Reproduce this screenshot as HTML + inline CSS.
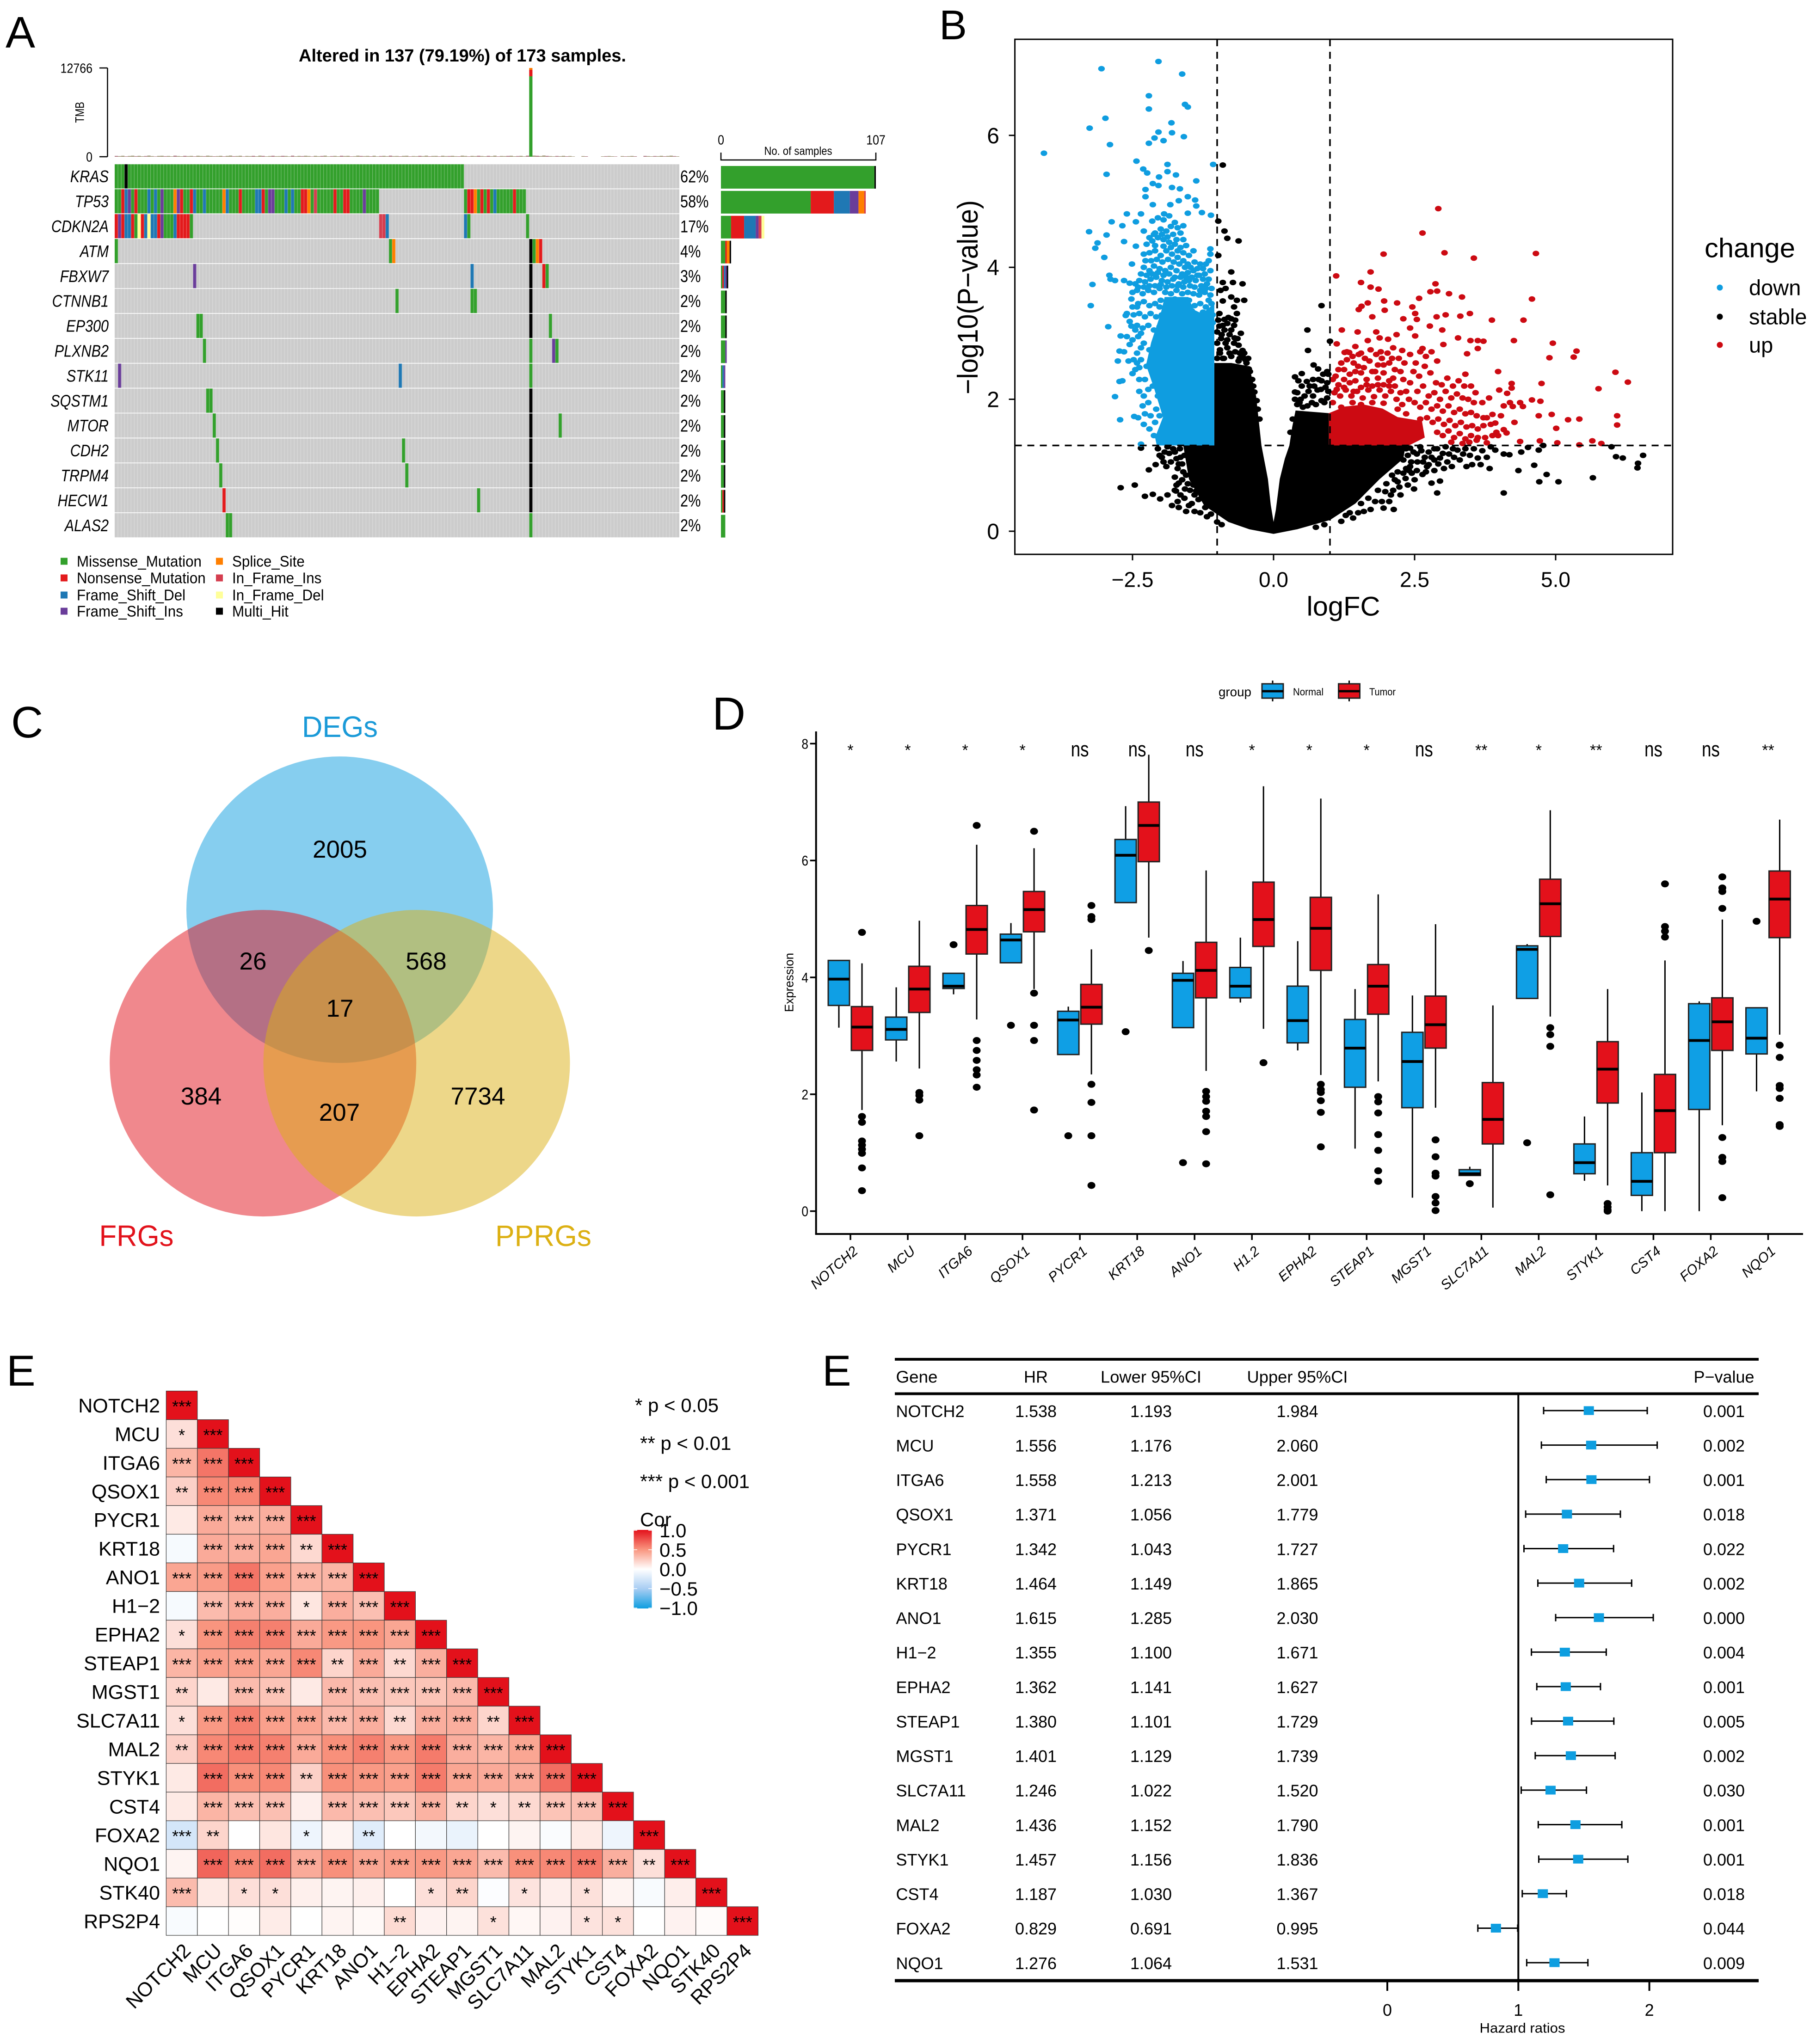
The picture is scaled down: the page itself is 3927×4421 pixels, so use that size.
<!DOCTYPE html>
<html lang="en">
<head>
<meta charset="utf-8">
<title>Multi-panel gene expression figure</title>
<style>
html,body{margin:0;padding:0;background:#fff;}
svg{display:block;font-family:"Liberation Sans",Arial,sans-serif;}
</style>
</head>
<body>
<svg id="figure" xmlns="http://www.w3.org/2000/svg" width="3927" height="4421" viewBox="0 0 3927 4421">
  <defs>
    <linearGradient id="corGradient" x1="0" y1="0" x2="0" y2="1">
      <stop offset="0" stop-color="#e3111b"/>
      <stop offset="0.25" stop-color="#f9957f"/>
      <stop offset="0.5" stop-color="#ffffff"/>
      <stop offset="0.75" stop-color="#a8cdf3"/>
      <stop offset="1" stop-color="#0e9ee0"/>
    </linearGradient>
  </defs>
  <rect width="3927" height="4421" fill="#fff"/>

  <text x="12" y="103" font-size="96">A</text>
  <text x="2031" y="85" font-size="90">B</text>
  <text x="24" y="1595" font-size="96">C</text>
  <text x="1540" y="1578" font-size="100">D</text>
  <text x="14" y="2997" font-size="94">E</text>
  <text x="1778" y="2997" font-size="94">E</text>

  <g id="panelA">
    <text x="1000" y="133" font-size="38" font-weight="bold" text-anchor="middle" textLength="708" lengthAdjust="spacingAndGlyphs">Altered in 137 (79.19%) of 173 samples.</text>
  </g>

  <g id="panelB"></g>

  <g id="panelC">
    <circle cx="734.5" cy="1967.6" r="331.5" fill="#0e9ee0" fill-opacity="0.5"/>
    <circle cx="568.7" cy="2299.6" r="331.5" fill="#e2121b" fill-opacity="0.5"/>
    <circle cx="901" cy="2299.6" r="331.5" fill="#dcb013" fill-opacity="0.5"/>
    <text x="735" y="1594" font-size="64" fill="#1a9ad8" text-anchor="middle" textLength="164" lengthAdjust="spacingAndGlyphs">DEGs</text>
    <text x="295" y="2695" font-size="64" fill="#e2121b" text-anchor="middle" textLength="161" lengthAdjust="spacingAndGlyphs">FRGs</text>
    <text x="1175" y="2695" font-size="64" fill="#dcb013" text-anchor="middle" textLength="208" lengthAdjust="spacingAndGlyphs">PPRGs</text>
    <g font-size="53" text-anchor="middle">
      <text x="735" y="1855">2005</text>
      <text x="547" y="2097">26</text>
      <text x="921.5" y="2097">568</text>
      <text x="735" y="2199">17</text>
      <text x="435" y="2389">384</text>
      <text x="734" y="2424">207</text>
      <text x="1033.5" y="2389">7734</text>
    </g>
  </g>

  <g id="panelD"></g>
  <g id="panelE"></g>
  <g id="panelF"></g>
</svg>

<script>
/* ---------- Panel A data ---------- */
const oncoGenes = ['KRAS','TP53','CDKN2A','ATM','FBXW7','CTNNB1','EP300','PLXNB2','STK11','SQSTM1','MTOR','CDH2','TRPM4','HECW1','ALAS2'];
const oncoPctLabels = ['62%','58%','17%','4%','3%','2%','2%','2%','2%','2%','2%','2%','2%','2%','2%'];
const oncoSampleCount = 173;
/* runs: [firstSample, lastSample, mutationCode]; later runs overwrite earlier ones */
const mutKRAS = [[0,106,'M'],[3,3,'H']];
const mutTP53 = [[0,80,'M'],[107,125,'M'],[2,2,'N'],[3,3,'D'],[4,4,'I'],[6,6,'N'],[10,10,'D'],[12,12,'D'],[14,14,'I'],[18,18,'S'],[19,19,'I'],[20,20,'N'],[23,23,'N'],[24,24,'D'],[27,27,'D'],[33,33,'S'],[34,34,'D'],[38,38,'N'],[43,44,'D'],[45,45,'N'],[47,48,'I'],[52,52,'D'],[54,54,'D'],[57,58,'N'],[59,59,'S'],[61,61,'F'],[67,67,'N'],[70,71,'N'],[76,76,'I'],[108,109,'N'],[110,110,'S'],[112,112,'N'],[114,114,'N'],[116,116,'D'],[122,122,'N']];
const mutCDKN2A = [[0,0,'N'],[1,1,'I'],[2,2,'N'],[3,4,'D'],[5,5,'N'],[6,6,'M'],[7,7,'E'],[8,8,'N'],[9,9,'D'],[10,10,'E'],[11,12,'D'],[13,13,'N'],[14,14,'I'],[15,17,'M'],[18,18,'D'],[19,22,'N'],[23,23,'M'],[81,82,'F'],[83,83,'D'],[107,107,'D'],[108,108,'M'],[126,126,'M']];
const mutATM = [[0,0,'M'],[84,84,'M'],[85,85,'S'],[127,127,'H'],[128,128,'M'],[129,129,'S'],[130,130,'N']];
const mutFBXW7 = [[24,24,'I'],[109,109,'D'],[127,127,'H'],[131,131,'N'],[132,132,'M']];
const mutCTNNB1 = [[86,86,'M'],[109,110,'M'],[127,127,'H']];
const mutEP300 = [[25,26,'M'],[127,127,'H'],[133,133,'M']];
const mutPLXNB2 = [[27,27,'M'],[127,127,'M'],[134,134,'I'],[135,135,'M']];
const mutSTK11 = [[1,1,'I'],[87,87,'D'],[127,127,'M']];
const mutSQSTM1 = [[28,29,'M'],[127,127,'H']];
const mutMTOR = [[30,30,'M'],[127,127,'H'],[136,136,'M']];
const mutCDH2 = [[31,31,'M'],[88,88,'M'],[127,127,'H']];
const mutTRPM4 = [[32,32,'M'],[89,89,'M'],[127,127,'H']];
const mutHECW1 = [[33,33,'N'],[111,111,'M'],[127,127,'H']];
const mutALAS2 = [[34,35,'M'],[127,127,'M']];
const mutationRuns = [mutKRAS,mutTP53,mutCDKN2A,mutATM,mutFBXW7,mutCTNNB1,mutEP300,mutPLXNB2,mutSTK11,mutSQSTM1,mutMTOR,mutCDH2,mutTRPM4,mutHECW1,mutALAS2];
const mutationCodes = ['M','N','D','I','S','F','E','H'];
const mutationColors = ['#33a02c','#e31a1c','#1f78b4','#6a3d9a','#ff7f00','#d53e4f','#ffff99','#000000'];
const legendCodes = ['M','N','D','I','S','F','E','H'];
const legendLabels = ['Missense_Mutation','Nonsense_Mutation','Frame_Shift_Del','Frame_Shift_Ins','Splice_Site','In_Frame_Ins','In_Frame_Del','Multi_Hit'];
const tmbHypermutated = [11570,930,266];
const tmbHypermutatedSample = 127;
const tmbMax = 12766;
const tmbOthers = [120,90,140,60,110,150,80,130,70,100,160,90,50,120,140,80,110,60,150,100,70,130,90,120,60,140,100,80,150,110,70,90,130,60,120,160,80,100,140,50,110,90,130,70,150,120,60,100,140,80,90,130,110,60,150,70,120,90,140,100,50,130,80,110,150,60,90,120,70,140,100,130,60,80,150,110,90,120,70,140,60,100,130,80,150,90,110,70,120,140,60,100,80,130,90,150,70,110,120,60,140,90,100,130,80,70,150,110,60,120,90,140,100,70,130,80,150,60,110,90,120,140,70,100,130,60,150,0,160,140,100,170,120,90,60,110,80,130,70,100,50,0,0,90,70,0,0,0,0,60,80,100,70,50,0,90,60,80,110,70,0,0,120,90,60,100,80,130,70,110,150,90,60];

/* ---------- Panel B data (x = logFC, y = -log10 P) ---------- */
const downPoints = [[-4.07,5.73],[-3.05,7.01],[-2.04,7.12],[-1.62,6.93],[-2.21,6.6],[-2.21,6.4],[-1.57,6.47],[-1.52,6.43],[-2.98,6.26],[-3.26,6.11],[-1.81,6.19],[-2.04,6.05],[-1.8,6.04],[-1.59,5.98],[-2.11,5.96],[-2.21,5.88],[-1.95,5.92],[-2.9,5.86],[-2.43,5.61],[-1.88,5.56],[-1.07,5.56],[-2.96,5.41],[-2.31,5.49],[-2.24,5.43],[-2.03,5.37],[-1.73,5.4],[-1.37,5.31],[-1.88,5.45],[-2.14,5.27],[-2.04,5.24],[-1.8,5.21],[-1.66,5.19],[-2.27,5.18],[-2.27,5.07],[-1.52,5.07],[-1.39,5.02],[-1.37,4.93],[-1.68,5.01],[-1.83,4.95],[-2.14,4.95],[-2.6,4.81],[-2.35,4.81],[-1.94,4.81],[-1.52,4.82],[-1.27,4.83],[-1.11,4.79],[-2.87,4.69],[-2.68,4.63],[-2.44,4.69],[-3.27,4.54],[-2.96,4.49],[-3.12,4.37],[-3.16,4.29],[-2.65,4.39],[-2.44,4.32],[-3,4.15],[-2.51,4.05],[-3.21,3.74],[-3.24,3.42],[-2.91,3.88],[-2.89,3.82],[-2.81,3.8],[-2.65,3.8],[-2.55,3.76],[-2.93,3.1],[-2.62,3.27],[-2.71,2.96],[-2.52,3.11],[-2.73,2.73],[-2.65,2.72],[-2.55,2.83],[-2.76,2.58],[-2.57,2.58],[-2.5,2.39],[-2.73,2.27],[-2.68,2.28],[-2.81,2.04],[-2.72,1.69],[-2.47,1.74],[-2.35,1.32],
[-2.15,4.7],[-2.05,4.75],[-1.95,4.72],[-1.85,4.78],[-1.75,4.68],[-1.7,4.6],[-1.82,4.62],[-1.9,4.55],[-2,4.58],[-2.1,4.52],[-2.2,4.45],[-2.3,4.55],[-1.78,4.5],[-1.65,4.52],[-1.6,4.63],[-2.25,4.35],[-2.15,4.4],[-2.05,4.45],[-1.95,4.42],[-1.85,4.38],[-1.75,4.35],[-1.65,4.3],[-1.55,4.33],[-1.42,4.25],[-1.12,4.28],[-1.12,4.2],[-2.3,4.2],[-2.2,4.22],[-2.1,4.25],[-2,4.18],[-1.9,4.25],[-1.8,4.2],[-1.7,4.15],[-1.6,4.1],[-1.5,4.18],[-1.4,4.08],[-1.3,4.05],[-1.2,4.05],[-1.52,4.05],[-2.3,4],[-2.2,3.95],[-2.12,4.02],[-2.02,3.98],[-1.92,3.95],[-1.82,4],[-1.72,3.95],[-1.62,3.9],[-1.52,3.92],[-1.42,3.95],[-1.32,3.88],[-1.22,3.9],[-1.12,3.95],[-2.45,3.75],[-2.38,3.8],[-2.28,3.78],[-2.18,3.82],[-2.08,3.85],[-1.98,3.8],[-1.88,3.78],[-1.78,3.82],[-1.68,3.75],[-1.58,3.78],[-1.48,3.72],[-1.38,3.8],[-1.28,3.72],[-1.18,3.75],[-2.5,3.62],[-2.42,3.65],[-2.32,3.6],[-2.22,3.65],[-2.12,3.62],[-2.02,3.68],[-1.92,3.62],[-1.82,3.6],[-1.72,3.65],[-1.62,3.6],[-1.52,3.62],[-1.42,3.6],[-1.32,3.58],[-1.22,3.62],[-1.12,3.58],[-2.52,3.52],[-2.4,3.45],[-2.3,3.48],[-2.2,3.42],[-2.1,3.45],[-2,3.5],[-1.9,3.42],[-1.8,3.48],[-1.7,3.4],[-1.6,3.45],[-1.5,3.5],[-1.4,3.42],[-1.3,3.45],[-1.2,3.4],[-1.1,3.45],[-2.6,3.3],[-2.48,3.28],[-2.38,3.3],[-2.28,3.25],[-2.18,3.3],[-2.08,3.25],[-1.98,3.28],[-1.88,3.22],[-1.78,3.3],[-1.68,3.25],[-1.58,3.28],[-1.48,3.22],[-1.38,3.28],[-1.28,3.25],[-1.18,3.22],[-1.08,3.28],[-2.42,3.12],[-2.32,3.08],[-2.22,3.12],[-2.12,3.05],[-2.02,3.1],[-1.92,3.05],[-1.82,3.12],[-1.72,3.05],[-1.62,3.1],[-1.52,3.05],[-1.42,3.12],[-1.32,3.08],[-1.22,3.05],[-1.12,3.1],[-2.02,3.4],[-1.93,3.33],[-1.84,3.38],[-1.75,3.52],[-1.64,3.36],[-1.55,3.18],[-1.45,3.34],[-1.35,3.18],[-1.25,3.32],[-1.15,3.5],[-1.95,3.14],[-1.78,3.18],[-1.66,3],[-1.47,2.98],[-1.27,3],[-1.08,3.16],[-2.05,2.98],
[-2.4,2.95],[-2.3,2.85],[-2.42,2.7],[-2.35,2.6],[-2.25,2.5],[-2.45,2.45],[-2.38,2.3],[-2.28,2.3],[-2.2,2.75],[-2.15,2.6],[-2.22,2.15],[-2.3,2.05],[-2.38,2.12],[-2.32,1.9],[-2.22,1.95],[-2.28,1.78],[-2.4,1.72],[-2.3,1.62],[-2.18,1.75],[-2.2,1.55],[-2.12,1.45],[-2.1,1.65],[-2.08,1.85],[-2.05,2.05],[-2,2.25],[-2.12,2.4],[-2.05,2.55],[-2.1,2.85],[-2,2.95],[-2.14,2.2],[-2,1.5],[-2.02,1.75],[-1.98,2.65],
[-2.27,4.1],[-2.17,4.1],[-2.07,4.12],[-1.97,4.08],[-1.87,4.12],[-1.77,4.08],[-1.67,4.05],[-1.57,4],[-1.47,4],[-1.35,3.98],[-1.25,3.98],[-1.15,4.1],[-2.35,3.9],[-2.25,3.88],[-2.15,3.9],[-2.05,3.92],[-1.95,3.88],[-1.85,3.9],[-1.75,3.85],[-1.65,3.85],[-1.55,3.85],[-1.45,3.85],[-1.35,3.88],[-1.25,3.82],[-1.15,3.82],[-2.4,3.7],[-2.3,3.7],[-2.2,3.72],[-2.1,3.72],[-2,3.74],[-1.9,3.7],[-1.8,3.72],[-1.7,3.72],[-1.6,3.7],[-1.5,3.8],[-1.4,3.7],[-1.3,3.65],[-1.2,3.68],[-1.1,3.68],[-2.12,4.5],[-1.98,4.5],[-1.88,4.46],[-1.72,4.42],[-1.6,4.42],[-2.1,4.33],[-1.95,4.32],[-1.82,4.3],[-1.7,4.25],[-1.6,4.22],[-2.42,3.4],[-2.5,3.4],[-2.55,3.18],[-2.45,3.05],[-2.35,2.78],[-2.48,2.6],[-2.42,2.55],[-2.38,2.48],[-2.5,2.9],[-2.6,2.95],[-2.35,3]];
const upPoints = [[2.92,4.89],[2.64,4.52],[1.95,4.2],[3.03,4.22],[3.55,4.14],[4.65,4.21],[1.11,3.87],[1.72,3.93],[1.55,3.77],[1.72,3.7],[1.86,3.67],[2.87,3.75],[2.78,3.63],[2.9,3.64],[3.11,3.6],[3.34,3.55],[2.58,3.53],[4.58,3.52],[1.96,3.49],[2.19,3.46],[1.67,3.46],[1.56,3.41],[1.51,3.36],[2.46,3.4],[1.97,3.35],[2.89,3.25],[3.05,3.28],[3.31,3.26],[3.48,3.3],[2.51,3.3],[2.54,3.21],[1.75,3.25],[2.3,3.22],[3.87,3.2],[4.43,3.2],[2.42,3.08],[2.77,3.11],[2.99,3.05],[1.21,3.05],[1.49,3.02],[1.82,3.02],[2.18,2.98],[2.03,2.91],[1.67,2.89],[1.88,2.93],[2.51,2.96],[3.27,2.93],[3.49,2.89],[3.62,2.89],[3.72,2.88],[4.26,2.89],[4.95,2.85],[3.01,2.83],[1.12,2.84],[3.62,2.77],[5.37,2.73],[3.43,2.69],[5.32,2.64],[4.89,2.63],[2.28,2.74],[2.64,2.77],[1.26,2.71],[1.34,2.71],[1.51,2.68],[6.06,2.41],[6.28,2.26],[3.98,2.42],[4.75,2.24],[4.22,2.24],[4.22,2.17],[5.76,2.16],[4,2.14],[4.14,2.09],[3.82,2.02],[4.58,1.99],[4.73,1.97],[4.37,1.95],[4.19,1.95],[4.42,1.89],[4.24,1.89],[4.08,1.9],[4.93,1.77],[6.09,1.75],[4.7,1.75],[3.88,1.77],[4.03,1.75],[3.78,1.72],[5.42,1.7],[5.22,1.69],[4.27,1.65],[3.93,1.64],[6.09,1.61],[5.01,1.56],[4.08,1.54],[4.13,1.49],[3.88,1.45],[3.98,1.45],[3.62,1.42],[4.37,1.36],[4.72,1.37],[5.03,1.34],[5.65,1.37],[5.42,1.31],[5.81,1.33],[3.78,1.34],[3.47,1.35],
[1.3,2.6],[1.42,2.55],[1.55,2.7],[1.62,2.62],[1.72,2.75],[1.82,2.68],[1.92,2.62],[2.02,2.7],[2.12,2.78],[2.22,2.62],[2.32,2.55],[2.42,2.68],[2.52,2.55],[2.6,2.72],[2.7,2.65],[2.8,2.72],[2.9,2.58],[2.48,2.42],[2.58,2.35],[2.68,2.5],[2.78,2.4],[2.88,2.25],[2.98,2.22],[3.08,2.32],[3.18,2.2],[3.28,2.28],[3.38,2.2],[2.42,2.25],[2.55,2.12],[2.65,2.2],[2.75,2.05],[2.85,2.1],[2.95,2],[3.05,2.12],[3.15,2.02],[3.25,2.08],[3.35,2.02],[3.45,2],[2.4,2],[2.5,1.95],[2.6,1.88],[2.7,1.95],[2.8,1.85],[2.9,1.9],[3,1.82],[3.1,1.9],[3.2,1.8],[3.3,1.85],[3.4,1.78],[3.5,1.8],[3.6,1.75],[2.6,1.7],[2.72,1.72],[2.82,1.65],[2.92,1.7],[3.02,1.62],[3.12,1.68],[3.22,1.6],[3.32,1.65],[3.42,1.58],[3.52,1.6],[3.62,1.55],[3.72,1.6],[2.9,1.5],[3,1.45],[3.1,1.52],[3.2,1.42],[3.3,1.48],[3.4,1.4],[3.5,1.45],[3.6,1.38],[3.75,1.42],[3.15,1.35],[3.35,1.33],[1.2,2.55],[1.1,2.35],[1.45,2.8],[1.7,2.58],[1.85,2.52],[2.05,2.55],[1.3,2.72],[2.15,2.45],[2.3,2.3],[2.25,2.1],[3.4,2.38],[3.5,2.2],[3.58,2.1],[3.7,1.95],[3.55,1.95],[3.72,1.72],[3.85,1.62],[3.95,1.5],
[1.05,2.3],[1.15,2.22],[1.25,2.3],[1.35,2.38],[1.45,2.28],[1.55,2.4],[1.65,2.3],[1.75,2.42],[1.85,2.32],[1.95,2.4],[2.05,2.28],[2.15,2.2],[1.08,2.1],[1.18,2.05],[1.28,2.14],[1.38,2.05],[1.48,2.12],[1.58,2.02],[1.68,2.14],[1.78,2.04],[1.88,2.14],[1.98,2.05],[2.08,2.12],[2.18,2],[2.28,1.92],[1.05,1.95],[1.2,1.88],[1.4,1.95],[1.55,1.92],[1.75,1.95],[1.95,1.94],[2.2,1.85],[2.35,1.78],[1.5,2.5],[1.95,2.52],[1.25,2.45],
[1.15,2.45],[1.25,2.18],[1.12,2.15],[1.35,2.25],[1.45,2.42],[1.55,2.18],[1.65,2.22],[1.75,2.2],[1.85,2.22],[1.95,2.22],[2.05,2.2],[2.12,2.32],[2.25,2.42],[2.35,2.12],[1.42,2.12],[1.6,2.48],[1.8,2.42],[1.4,2.65],[1.9,2.72],[2.1,2.62]];
const stablePoints = [[-0.9,5.55],[-0.98,4.7],[-0.87,4.55],[-0.82,4.44],[-0.62,4.4],[-0.98,4.18],[-0.75,3.93],[-0.9,3.77],[-0.72,3.77],[-0.55,3.75],[-0.94,3.65],[-0.85,3.68],[-0.75,3.55],[-0.65,3.5],[-0.52,3.5],[-0.9,3.49],[-0.7,3.4],[-0.65,3.3],[-0.96,3.3],[-0.87,3.21],[-0.8,3.24],[-0.96,3.11],[-0.75,3.05],[-0.87,3.05],[-0.69,2.93],[-0.55,2.74],[-0.44,2.46],[-0.34,2.11],[-0.98,3.2],[-0.92,2.98],[-0.82,2.9],[-0.62,2.82],[-0.95,2.75],[-0.78,2.7],[-0.6,2.62],[-0.5,2.6],[-0.9,2.62],[-0.7,3.12],[-0.58,3],[0.85,3.42],[0.6,3.05],[0.61,2.74],[1,2.88],[0.71,2.52],[0.79,2.46],[0.95,2.42],[0.38,2.34],[0.5,2.39],[0.59,2.27],[0.38,2.11],[0.7,2.3],[0.85,2.28],[0.62,2.12],[0.78,2.14],[0.92,2.18],[0.48,2],[0.68,1.95],[0.85,1.98],[0.42,1.92],[0.95,2.02],
[-2.71,0.66],[-2.46,0.7],[-2.28,0.53],[-2.14,0.56],[-2.01,0.49],[-1.88,0.55],[-1.8,0.39],[-1.68,0.36],[-1.5,0.39],[-1.45,0.42],[-2.21,0.93],[-2.09,1.01],[-2.35,1.26],[-1.93,1.2],[-1.68,0.73],[-1.73,0.61],[-1.57,0.64],[-1.37,0.61],[-1.21,0.36],[-1.11,0.26],[-2.05,1.25],[-1.98,1.12],[-1.88,1.28],[-1.82,1.05],[-1.75,1.2],[-1.7,0.95],[-1.65,1.12],[-1.9,0.98],[-1.75,0.82],[-1.6,0.9],[-1.42,0.7],[-1.28,0.5],[-1,0.14],[-0.92,0.1],[-1.18,0.22],
[6.19,1.11],[6.07,1.13],[6.55,1.15],[6.46,1.03],[6.45,0.96],[5.99,1.28],[5.66,0.81],[5.05,0.75],[4.84,0.86],[4.71,0.75],[4.08,0.58],[4.62,1],[4.34,0.92],[4.7,1.23],[4.78,1.3],[4.18,1.16],[4.39,1.2],[4.51,1.27],[4.08,1.17],[3.93,1.23],[3.78,1.12],[3.83,0.95],[3.62,1.11],[3.52,1.01],[3.42,0.98],[3.67,1.01],[3.16,0.98],[2.9,0.58],[2.95,0.76],[2.8,0.73],[2.49,0.64],[2.13,0.33],[1.92,0.45],[1.72,0.33],[1.41,0.2],[3.11,1.17],[2.95,1.11],[2.75,1.01],[2.54,0.92],[2.64,0.86],[2.85,0.92],[3.36,1.17],[3.26,1.23],[2.54,1.17],[2.75,1.2],[2.34,0.8],[2.23,0.67],[2.08,0.55],[2.44,1.05],[2.42,1.26],[2.6,1.28],[2.85,1.25],[3.05,1.28],[2.65,1.05],[2.85,1.08],[2.4,0.92],[2.3,1.08],[2.2,0.9],[2.15,0.78],[2,0.72],[1.85,0.62],[1.68,0.5],[2.5,0.78],[2.7,0.9],[1.55,0.42],[1.28,0.24],
[-1,2.62],[-0.95,2.7],[-0.88,2.62],[-0.82,2.78],[-0.75,2.65],[-0.68,2.72],[-0.62,2.58],[-0.55,2.65],[-0.48,2.55],[-1,2.85],[-0.93,2.92],[-0.85,2.85],[-0.78,2.98],[-0.7,2.85],[-0.64,2.92],[-1,3.02],[-0.9,3.12],[-0.82,3.15],[-0.75,3.22],[-0.68,3.2],[-0.6,2.7],[-0.52,2.7],[-0.45,2.62],[-0.42,2.42],[-0.38,2.3],[-0.36,2.2],[-0.3,1.98],[-0.28,1.85],[-0.25,1.7],
[0.38,2],[0.42,2.1],[0.46,1.95],[0.5,2.2],[0.55,2.05],[0.6,1.9],[0.64,2.2],[0.7,2.05],[0.75,1.92],[0.8,2.3],[0.84,2.15],[0.9,1.95],[0.95,2.25],[0.97,2.12],[0.44,2.28],[0.52,1.88],[0.72,2.2],[0.88,2.38],[0.97,2.38],[0.34,1.7],[0.3,1.5],
[-2.02,1.15],[-1.95,1.05],[-1.85,1.18],[-1.78,1.25],[-1.72,1.1],[-1.66,1.25],[-1.62,1.02],[-1.58,1.15],[-1.55,0.85],[-1.62,0.78],[-1.68,1.02],[-1.52,0.72],[-1.48,0.62],[-1.4,0.55],[-1.33,0.48],[-1.75,0.62],[-1.72,0.7],[-1.65,0.55],[-1.7,0.45],[-1.58,0.5],[-1.55,0.3],[-1.4,0.3],[-1.3,0.28],
[2.35,1.25],[2.38,1.15],[2.42,0.98],[2.35,0.95],[2.3,0.88],[2.48,1.2],[2.55,1.05],[2.62,1.22],[2.68,1.12],[2.72,0.98],[2.8,1.12],[2.9,1.25],[2.92,1.02],[3,1.18],[3.02,0.95],[3.08,1.05],[3.18,1.25],[3.2,1.12],[3.3,1.08],[3.4,1.25],[3.48,1.15],[3.55,1.25],[3.7,1.22],[3.85,1.28],[2.2,0.75],[2.12,0.62],[1.98,0.6],[1.95,0.35],[2.05,0.45],[2.25,0.55],[2.38,0.7],[2.45,0.88],[2.1,0.85],[1.8,0.45],[1.6,0.3],[1.5,0.28],[1.35,0.28],[1.2,0.15],[0.9,0.1],[0.75,0.06]];
const stableCoreOutline = [[0,-0.04],[-0.43,0.03],[-0.8,0.14],[-1.23,0.39],[-1.5,0.79],[-1.6,1.3],[-1.05,1.3],[-1.05,2.55],[-0.75,2.55],[-0.43,2.5],[-0.31,2.05],[-0.215,1.3],[-0.1,0.79],[-0.05,0.4],[0,0.14],[0.04,0.32],[0.11,0.79],[0.2,1.1],[0.28,1.3],[0.33,1.58],[0.39,1.83],[0.98,1.79],[0.98,1.3],[2.34,1.3],[2.3,1.1],[1.88,0.79],[1.45,0.42],[1,0.17],[0.42,0.03]];
const downCoreOutline = [[-1.05,1.3],[-1.05,3.45],[-1.27,3.3],[-1.42,3.36],[-1.51,3.55],[-1.93,3.55],[-2,3.3],[-2.17,2.86],[-2.26,2.52],[-2.12,2.17],[-1.96,1.73],[-2.1,1.42],[-2.07,1.3]];
const upCoreOutline = [[0.98,1.3],[0.98,1.79],[1.27,1.89],[1.6,1.92],[1.93,1.86],[2.2,1.73],[2.63,1.67],[2.68,1.42],[2.4,1.3]];
const volcanoXTicks = [-2.5,0,2.5,5];
const volcanoXLabels = ['\u22122.5','0.0','2.5','5.0'];
const volcanoYTicks = [0,2,4,6];
const volcanoThresholdsX = [-1,1];
const volcanoThresholdY = 1.3;
const volcanoLegend = ['down','stable','up'];

/* ---------- Panel D data: [whiskerLow, q1, median, q3, whiskerHigh] ---------- */
const boxGenes = ['NOTCH2','MCU','ITGA6','QSOX1','PYCR1','KRT18','ANO1','H1.2','EPHA2','STEAP1','MGST1','SLC7A11','MAL2','STYK1','CST4','FOXA2','NQO1'];
const boxSignificance = ['*','*','*','*','ns','ns','ns','*','*','*','ns','**','*','**','ns','ns','**'];
const boxNormal = [[3.14,3.52,3.97,4.29,4.29],[2.56,2.93,3.11,3.32,3.83],[3.71,3.81,3.85,4.07,4.07],[4.25,4.25,4.64,4.74,4.93],[2.68,2.68,3.27,3.42,3.5],[5.28,5.28,6.09,6.36,6.93],[3.14,3.14,3.95,4.07,4.28],[3.57,3.65,3.85,4.17,4.68],[2.75,2.88,3.26,3.85,4.62],[1.07,2.12,2.79,3.28,3.8],[0.23,1.77,2.56,3.06,3.69],[0.61,0.61,0.64,0.71,0.76],[3.64,3.64,4.48,4.54,4.57],[0.52,0.64,0.83,1.15,1.62],[0,0.27,0.51,1,2.03],[0,1.74,2.92,3.55,3.59],[2.05,2.69,2.96,3.48,3.48]];
const boxTumor = [[1.73,2.75,3.15,3.5,4.24],[2.44,3.4,3.8,4.19,4.97],[3.28,4.4,4.82,5.23,6.27],[3.8,4.78,5.16,5.47,6.21],[2.34,3.2,3.49,3.88,4.48],[4.68,5.98,6.6,7,7.81],[2.4,3.65,4.12,4.6,5.83],[3.12,4.53,4.99,5.63,7.27],[2.33,4.12,4.84,5.37,7.06],[2.22,3.37,3.85,4.22,5.42],[1.77,2.79,3.19,3.68,4.91],[0.06,1.15,1.57,2.2,3.52],[3.33,4.7,5.26,5.68,6.86],[0.44,1.85,2.43,2.9,3.8],[0,1,1.72,2.34,4.29],[1.47,2.75,3.24,3.65,4.99],[3.02,4.68,5.34,5.82,6.7]];
const outliersNormal = [[],[],[4.56],[3.18],[1.29],[3.07],[0.83],[],[],[],[],[0.47],[1.17],[],[],[],[4.96]];
const outliersTumor = [[4.77,1.62,1.52,1.2,1.13,1.06,0.99,0.74,0.35],[2.03,1.98,1.9,1.29],[6.6,2.92,2.75,2.58,2.42,2.33,2.12],[6.5,3.73,3.18,2.92,1.73],[5.23,5.04,4.99,2.17,1.86,1.29,0.44],[4.46],[2.05,1.96,1.88,1.71,1.62,1.36,0.81],[2.54],[2.17,2.08,2.03,1.89,1.69,1.1],[1.96,1.87,1.68,1.31,1.04,0.69,0.51],[1.22,0.93,0.65,0.6,0.25,0.14,0.01],[],[3.14,3.02,2.82,0.28],[0.13,0.07,0.02,0],[5.6,4.87,4.79,4.69],[5.72,5.53,5.47,5.18,1.26,0.92,0.85,0.23],[2.84,2.63,2.15,2.1,1.93,1.48,1.45]];
const boxYTicks = [0,2,4,6,8];

/* ---------- Panel E data ---------- */
const corGenes = ['NOTCH2','MCU','ITGA6','QSOX1','PYCR1','KRT18','ANO1','H1\u22122','EPHA2','STEAP1','MGST1','SLC7A11','MAL2','STYK1','CST4','FOXA2','NQO1','STK40','RPS2P4'];
const corValues = [
[1],
[0.15,1],
[0.35,0.62,1],
[0.22,0.55,0.55,1],
[0.1,0.4,0.35,0.38,1],
[-0.05,0.4,0.38,0.42,0.18,1],
[0.42,0.47,0.62,0.45,0.35,0.35,1],
[-0.05,0.32,0.38,0.38,0.12,0.38,0.3,1],
[0.15,0.5,0.58,0.58,0.4,0.48,0.5,0.42,1],
[0.35,0.45,0.45,0.42,0.55,0.2,0.4,0.18,0.38,1],
[0.2,0.1,0.32,0.28,0.1,0.33,0.3,0.26,0.28,0.33,1],
[0.15,0.48,0.58,0.45,0.42,0.33,0.38,0.18,0.38,0.38,0.2,1],
[0.22,0.55,0.6,0.58,0.4,0.52,0.58,0.48,0.6,0.38,0.35,0.42,1],
[0.1,0.65,0.52,0.55,0.22,0.52,0.48,0.45,0.6,0.42,0.4,0.4,0.65,1],
[0.1,0.35,0.3,0.3,0.08,0.33,0.3,0.26,0.36,0.2,0.15,0.18,0.28,0.3,1],
[-0.25,0.2,0,0.12,-0.1,0.05,-0.18,0,-0.07,-0.12,0,0.05,-0.03,0.1,-0.1,1],
[0.05,0.68,0.55,0.65,0.4,0.52,0.42,0.45,0.48,0.42,0.32,0.52,0.55,0.6,0.38,0.15,1],
[0.32,0.1,0.15,0.15,0.07,0.05,0.07,0,0.15,0.2,-0.02,0.13,0.08,0.14,0.05,-0.04,0.08,1],
[-0.04,0,0.01,0.09,0,0.05,0.03,0.17,0.06,0.05,0.14,0.04,0.06,0.13,0.14,0,0.06,0.02,1]];
const corStars = [
[3],
[1,3],
[3,3,3],
[2,3,3,3],
[0,3,3,3,3],
[0,3,3,3,2,3],
[3,3,3,3,3,3,3],
[0,3,3,3,1,3,3,3],
[1,3,3,3,3,3,3,3,3],
[3,3,3,3,3,2,3,2,3,3],
[2,0,3,3,0,3,3,3,3,3,3],
[1,3,3,3,3,3,3,2,3,3,2,3],
[2,3,3,3,3,3,3,3,3,3,3,3,3],
[0,3,3,3,2,3,3,3,3,3,3,3,3,3],
[0,3,3,3,0,3,3,3,3,2,1,2,3,3,3],
[3,2,0,0,1,0,2,0,0,0,0,0,0,0,0,3],
[0,3,3,3,3,3,3,3,3,3,3,3,3,3,3,2,3],
[3,0,1,1,0,0,0,0,1,2,0,1,0,1,0,0,0,3],
[0,0,0,0,0,0,0,2,0,0,1,0,0,1,1,0,0,0,3]];
const corLegendTicks = [1,0.5,0,-0.5,-1];
const corLegendLabels = ['1.0','0.5','0.0','\u22120.5','\u22121.0'];
const corPLabels = ['* p < 0.05','** p < 0.01','*** p < 0.001'];

/* ---------- Panel F data ---------- */
const forestGenes = ['NOTCH2','MCU','ITGA6','QSOX1','PYCR1','KRT18','ANO1','H1\u22122','EPHA2','STEAP1','MGST1','SLC7A11','MAL2','STYK1','CST4','FOXA2','NQO1'];
const forestHR = [1.538,1.556,1.558,1.371,1.342,1.464,1.615,1.355,1.362,1.38,1.401,1.246,1.436,1.457,1.187,0.829,1.276];
const forestLower = [1.193,1.176,1.213,1.056,1.043,1.149,1.285,1.1,1.141,1.101,1.129,1.022,1.152,1.156,1.03,0.691,1.064];
const forestUpper = [1.984,2.06,2.001,1.779,1.727,1.865,2.03,1.671,1.627,1.729,1.739,1.52,1.79,1.836,1.367,0.995,1.531];
const forestP = ['0.001','0.002','0.001','0.018','0.022','0.002','0.000','0.004','0.001','0.005','0.002','0.030','0.001','0.001','0.018','0.044','0.009'];
const forestTicks = [0,1,2];
const forestHeaders = ['Gene','HR','Lower 95%CI','Upper 95%CI','P\u2212value'];

/* ---------- helpers ---------- */
const SVGNS = 'http://www.w3.org/2000/svg';
function node(tag, parent, props) {
  const e = document.createElementNS(SVGNS, tag);
  for (const k in props) e.setAttribute(k, props[k]);
  parent.appendChild(e);
  return e;
}
function label(parent, str, x, y, size, o) {
  o = o || {};
  const baseY = o.baseline ? 0 : size * 0.355;
  const e = node('text', parent, {
    x: 0, y: baseY, 'font-size': size,
    transform: 'translate(' + x + ' ' + y + ') rotate(' + (o.rot || 0) + ') scale(' + (o.sx || 1) + ' 1)',
    'text-anchor': o.anchor || 'start',
    fill: o.fill || '#000'
  });
  if (o.italic) e.setAttribute('font-style', 'italic');
  if (o.bold) e.setAttribute('font-weight', 'bold');
  if (o.w) { e.setAttribute('textLength', o.w); e.setAttribute('lengthAdjust', 'spacingAndGlyphs'); }
  e.textContent = str;
  return e;
}
function line(parent, x1, y1, x2, y2, w, color, dash) {
  const e = node('line', parent, {x1: x1, y1: y1, x2: x2, y2: y2, stroke: color || '#000', 'stroke-width': w});
  if (dash) e.setAttribute('stroke-dasharray', dash);
  return e;
}

/* ---------- Panel A ---------- */
(function () {
  const g = document.getElementById('panelA');
  const left = 248, right = 1469, top = 354.5, rowH = 53.9, gap = 1.6;
  const colW = (right - left) / oncoSampleCount;
  const cx = s => left + s * colW;
  const rowY = r => top + r * rowH;
  const tmbY = v => 339 - v / tmbMax * 192;
  const barX = n => 1559 + n * (335 / 107);
  const colorOf = c => mutationColors[mutationCodes.indexOf(c)];

  /* TMB axis */
  const tmbAxis = line(g, 232.5, 147, 232.5, 339, 2.5);
  
  
  [[tmbMax, String(tmbMax)], [0, '0']].forEach(function (t) {
    const tick = line(g, 215, tmbY(t[0]), 232.5, tmbY(t[0]), 2.5);
    
    
    const tl = label(g, t[1], 200, tmbY(t[0]), 29, {anchor: 'end', sx: 0.86});
    
    
  });
  const tmbTitle = label(g, 'TMB', 172, 243, 27, {rot: -90, anchor: 'middle', sx: 0.8});
  
  

  tmbOthers.forEach(function (v, s) {
    if (!v) return;
    const b = node('rect', g, {x: cx(s), y: tmbY(v), width: colW, height: 339 - tmbY(v), fill: s % 3 ? '#9b8f6e' : '#a86f7a'});
    
    
  });
  let acc = 0;
  const tmbStackColors = ['#33a02c', '#e31a1c', '#ff7f00'];
  tmbHypermutated.forEach(function (v, i) {
    const b = node('rect', g, {x: cx(tmbHypermutatedSample), y: tmbY(acc + v), width: colW, height: tmbY(acc) - tmbY(acc + v), fill: tmbStackColors[i]});
    
    
    acc += v;
  });

  /* grid background */
  const bg = node('rect', g, {x: left, y: top, width: right - left, height: rowH * oncoGenes.length, fill: '#cccccc'});
  
  

  oncoGenes.forEach(function (gene, r) {
    const state = {};
    mutationRuns[r].forEach(function (run) {
      for (let s = run[0]; s <= run[1]; s++) state[s] = run[2];
    });
    Object.keys(state).forEach(function (s) {
      const cell = node('rect', g, {x: cx(+s), y: rowY(r), width: colW + 0.2, height: rowH, fill: colorOf(state[s])});
      
      
    });
    const name = label(g, gene, 235, rowY(r) + rowH / 2, 36, {anchor: 'end', italic: true, sx: 0.85});
    
    
    const pct = label(g, oncoPctLabels[r], 1471, rowY(r) + rowH / 2, 37, {sx: 0.83});
    
    

    /* side bar computed from the per-sample mutation calls */
    let n = 0;
    mutationCodes.forEach(function (code, ci) {
      const count = Object.keys(state).filter(s => state[s] === code).length;
      if (!count) return;
      const seg = node('rect', g, {x: barX(n), y: 359 + r * rowH, width: barX(count) - barX(0), height: 49, fill: mutationColors[ci]});
      
      
      n += count;
    });
  });

  /* separators */
  let d = '';
  for (let s = 1; s < oncoSampleCount; s++) d += 'M' + cx(s).toFixed(1) + ' ' + top + 'V' + (top + rowH * 15);
  const seps = node('path', g, {d: d, stroke: '#fff', 'stroke-opacity': 0.3, 'stroke-width': 1.2, fill: 'none'});
  
  
  let dr = '';
  for (let r = 0; r <= 15; r++) dr += 'M' + left + ' ' + rowY(r).toFixed(1) + 'H' + right;
  const rowSeps = node('path', g, {d: dr, stroke: '#fff', 'stroke-width': gap, fill: 'none'});
  
  

  /* side bar axis */
  const bracket = node('path', g, {d: 'M1559 330V346H1894V330', fill: 'none', stroke: '#000', 'stroke-width': 2.5});
  
  
  const b0 = label(g, '0', 1559, 302, 29, {anchor: 'middle', sx: 0.86});
  
  
  const b1 = label(g, '107', 1894, 302, 29, {anchor: 'middle', sx: 0.86});
  
  
  const bt = label(g, 'No. of samples', 1726, 326, 25, {anchor: 'middle', w: 147});
  
  

  /* legend */
  const legendRowY = [1214, 1250, 1287, 1322];
  legendCodes.forEach(function (code, i) {
    const col = i < 4 ? 0 : 1;
    const y = legendRowY[i % 4];
    const sw = node('rect', g, {x: col ? 467 : 131, y: y - 7.5, width: 15, height: 15, fill: colorOf(code)});
    
    
    const tx = label(g, legendLabels[i], col ? 502 : 166, y, 33, {sx: 0.95});
    
    
  });
})();

/* ---------- Panel B ---------- */
(function () {
  const g = document.getElementById('panelB');
  const X = v => 2754 + 122 * v;
  const Y = v => 1149 - 142.7 * v;
  const L = 2194.6, R = 3617, T = 85, B = 1199;
  const RX = 7.2, RY = 6;
  const pts = a => a.map(p => X(p[0]).toFixed(1) + ',' + Y(p[1]).toFixed(1)).join(' ');

  const coreS = node('polygon', g, {points: pts(stableCoreOutline), fill: '#000'});
  
  
  stablePoints.forEach(function (p) {
    const c = node('ellipse', g, {cx: X(p[0]), cy: Y(p[1]), rx: RX, ry: RY, fill: '#000'});
    
    
  });
  const coreD = node('polygon', g, {points: pts(downCoreOutline), fill: '#0f9de0'});
  
  
  downPoints.forEach(function (p) {
    const c = node('ellipse', g, {cx: X(p[0]), cy: Y(p[1]), rx: RX, ry: RY, fill: '#0f9de0'});
    
    
  });
  const coreU = node('polygon', g, {points: pts(upCoreOutline), fill: '#cc0a12'});
  
  
  upPoints.forEach(function (p) {
    const c = node('ellipse', g, {cx: X(p[0]), cy: Y(p[1]), rx: RX, ry: RY, fill: '#cc0a12'});
    
    
  });

  volcanoThresholdsX.forEach(function (v) {
    const l = line(g, X(v), T, X(v), B, 3.5, '#000', '15 12');
    
    
  });
  const hl = line(g, L, Y(volcanoThresholdY), R, Y(volcanoThresholdY), 3.5, '#000', '15 12');
  
  

  const box = node('rect', g, {x: L, y: T, width: R - L, height: B - T, fill: 'none', stroke: '#000', 'stroke-width': 3});
  
  

  volcanoXTicks.forEach(function (v, i) {
    const t = line(g, X(v), B, X(v), B + 13, 3);
    
    
    const tl = label(g, volcanoXLabels[i], X(v), 1253, 46, {anchor: 'middle'});
    
    
  });
  volcanoYTicks.forEach(function (v) {
    const t = line(g, L - 13, Y(v), L, Y(v), 3);
    
    
    const tl = label(g, String(v), 2161, Y(v), 48, {anchor: 'end'});
    
    
  });
  const xt = label(g, 'logFC', 2905, 1311, 58, {anchor: 'middle', w: 159});
  
  
  const yt = label(g, '\u2212log10(P\u2212value)', 2092, 643, 62, {anchor: 'middle', rot: -90, w: 420});
  
  

  const lt = label(g, 'change', 3686, 536, 58, {w: 196});
  
  
  const legendColors = ['#0f9de0', '#000', '#cc0a12'];
  const legendY = [622, 685, 746];
  volcanoLegend.forEach(function (s, i) {
    const c = node('circle', g, {cx: 3719, cy: legendY[i], r: 6.5, fill: legendColors[i]});
    
    
    const tx = label(g, s, 3782, legendY[i], 47);
    
    
  });
})();

/* ---------- Panel D ---------- */
(function () {
  const g = document.getElementById('panelD');
  const Y = v => 2619.6 - 126.4 * v;
  const X = i => 1839 + 124.03 * i;
  const axisL = 1764.7, axisB = 2669, axisR = 3899, axisT = 1582;
  const normalFill = '#0f9fe5', tumorFill = '#e3111b';

  function drawBox(cx, s, fill, name) {
    const wh = line(g, cx, Y(s[0]), cx, Y(s[4]), 3);
    
    
    const r = node('rect', g, {x: cx - 23, y: Y(s[3]), width: 46, height: Y(s[1]) - Y(s[3]), fill: fill, stroke: '#222', 'stroke-width': 3});
    
    
    const m = line(g, cx - 23, Y(s[2]), cx + 23, Y(s[2]), 6);
    
    
  }
  boxGenes.forEach(function (gene, i) {
    const nx = X(i) - 25, tx = X(i) + 25;
    drawBox(nx, boxNormal[i], normalFill, 'normal');
    drawBox(tx, boxTumor[i], tumorFill, 'tumor');
    outliersNormal[i].forEach(function (v) {
      const c = node('ellipse', g, {cx: nx, cy: Y(v), rx: 8.5, ry: 7.5, fill: '#000'});
      
      
    });
    outliersTumor[i].forEach(function (v) {
      const c = node('ellipse', g, {cx: tx, cy: Y(v), rx: 8.5, ry: 7.5, fill: '#000'});
      
      
    });
    const t = line(g, X(i), axisB, X(i), axisB + 13, 3.5);
    
    
    const tl = label(g, gene, X(i) + 18, 2709, 30, {anchor: 'end', rot: -41, italic: true, baseline: true});
    
    
    const sig = boxSignificance[i];
    const st = sig === 'ns'
      ? label(g, sig, X(i), 1620, 45, {anchor: 'middle', sx: 0.82})
      : label(g, sig, X(i), 1622, 34, {anchor: 'middle'});
    
    
  });
  const ya = line(g, axisL, axisT, axisL, axisB, 4);
  
  
  const xa = line(g, axisL - 2, axisB, axisR, axisB, 4);
  
  
  boxYTicks.forEach(function (v) {
    const t = line(g, axisL - 13, Y(v), axisL, Y(v), 3.5);
    
    
    const tl = label(g, String(v), 1748, Y(v), 31, {anchor: 'end', sx: 0.85});
    
    
  });
  const yt = label(g, 'Expression', 1706, 2125, 27, {anchor: 'middle', rot: -90, w: 128});
  
  

  const lg = label(g, 'group', 2635, 1496, 28, {w: 71});
  
  
  [[2752, normalFill, 'Normal', 2796, 66], [2917.5, tumorFill, 'Tumor', 2961, 57]].forEach(function (k) {
    const wh = line(g, k[0], 1472, k[0], 1517, 3);
    
    
    const r = node('rect', g, {x: k[0] - 23, y: 1479, width: 46, height: 31, fill: k[1], stroke: '#222', 'stroke-width': 3});
    
    
    const m = line(g, k[0] - 23, 1495, k[0] + 23, 1495, 5);
    
    
    const t = label(g, k[2], k[3], 1496, 22, {w: k[4]});
    
    
  });
})();

/* ---------- Panel E ---------- */
(function () {
  const g = document.getElementById('panelE');
  const left = 359.4, top = 3008.6, cw = 67.37, ch = 61.97;
  const stops = [[-1, [14, 158, 224]], [-0.5, [168, 205, 243]], [0, [255, 255, 255]], [0.5, [249, 149, 127]], [1, [227, 17, 27]]];
  function heat(v) {
    for (let i = 0; i < stops.length - 1; i++) {
      if (v <= stops[i + 1][0]) {
        const t = (v - stops[i][0]) / (stops[i + 1][0] - stops[i][0]);
        const c = stops[i][1].map((a, k) => Math.round(a + (stops[i + 1][1][k] - a) * t));
        return 'rgb(' + c.join(',') + ')';
      }
    }
    return 'rgb(227,17,27)';
  }
  corValues.forEach(function (row, r) {
    const rl = label(g, corGenes[r], 346, top + (r + 0.5) * ch, 43, {anchor: 'end'});
    
    
    row.forEach(function (v, c) {
      const cell = node('rect', g, {x: left + c * cw, y: top + r * ch, width: cw, height: ch, fill: heat(v), stroke: '#3a3a3a', 'stroke-width': 1.2});
      
      
      const k = corStars[r][c];
      if (k) {
        const st = label(g, '*'.repeat(k), left + (c + 0.5) * cw, top + (r + 0.5) * ch + 15, 36, {anchor: 'middle', baseline: true});
        
        
      }
    });
    const cl = label(g, corGenes[r], left + (r + 0.5) * cw + 22, 4222, 43, {anchor: 'end', rot: -45, baseline: true});
    
    
  });
  const pX = [1373, 1384, 1384];
  const pY = [3039, 3121, 3203.6];
  corPLabels.forEach(function (s, i) {
    const t = label(g, s, pX[i], pY[i], 42);
    
    
  });
  const ct = label(g, 'Cor', 1384, 3286, 42);
  
  
  const bar = node('rect', g, {x: 1370.5, y: 3309, width: 39, height: 170, fill: 'url(#corGradient)'});
  
  
  const legendScale = v => 3394 - 84 * v;
  corLegendTicks.forEach(function (v, i) {
    const t = label(g, corLegendLabels[i], 1426, legendScale(v), 42);
    
    
    const a = line(g, 1370.5, legendScale(v), 1378, legendScale(v), 1.5, '#fff');
    
    
    const b = line(g, 1402, legendScale(v), 1409.5, legendScale(v), 1.5, '#fff');
    
    
  });
})();

/* ---------- Panel F ---------- */
(function () {
  const g = document.getElementById('panelF');
  const X = v => 3000 + 283.3 * v;
  const rowY = i => 3052 + 74.63 * i;
  const L = 1935, R = 3803, headY = 2977.6;
  const ruleY = [2940, 3014.5, 4284];
  const ruleW = [6, 6, 7];
  ruleY.forEach(function (y, i) {
    const l = line(g, L, y, R, y, ruleW[i]);
    
    
  });
  const headX = [1937.5, 2240, 2489, 2805.5, 3728];
  const headW = [90, 52, 218, 218, 131];
  forestHeaders.forEach(function (s, i) {
    const t = label(g, s, headX[i], headY, 36, {anchor: i ? 'middle' : 'start', w: headW[i]});
    
    
  });
  const ref = line(g, X(1), 3014.5, X(1), 4284, 4);
  
  
  forestGenes.forEach(function (gene, i) {
    const y = rowY(i);
    const a = label(g, gene, 1937.5, y, 36);
    
    
    const b = label(g, forestHR[i].toFixed(3), 2240, y, 36, {anchor: 'middle'});
    
    
    const c = label(g, forestLower[i].toFixed(3), 2489, y, 36, {anchor: 'middle'});
    
    
    const d = label(g, forestUpper[i].toFixed(3), 2805.5, y, 36, {anchor: 'middle'});
    
    
    const e = label(g, forestP[i], 3728, y, 36, {anchor: 'middle'});
    
    
    const ci = line(g, X(forestLower[i]), y - 1, X(forestUpper[i]), y - 1, 3);
    
    
    const capL = line(g, X(forestLower[i]), y - 9, X(forestLower[i]), y + 7, 3);
    
    
    const capR = line(g, X(forestUpper[i]), y - 9, X(forestUpper[i]), y + 7, 3);
    
    
    const pt = node('rect', g, {x: X(forestHR[i]) - 11, y: y - 10.5, width: 22, height: 19, fill: '#0e9ee0'});
    
    
  });
  forestTicks.forEach(function (v) {
    const t = line(g, X(v), 4287, X(v), 4306, 4);
    
    
    const tl = label(g, String(v), X(v), 4347, 36, {anchor: 'middle'});
    
    
  });
  const xt = label(g, 'Hazard ratios', 3292, 4386, 30, {anchor: 'middle', w: 185});
  
  
})();
</script>
</body>
</html>
